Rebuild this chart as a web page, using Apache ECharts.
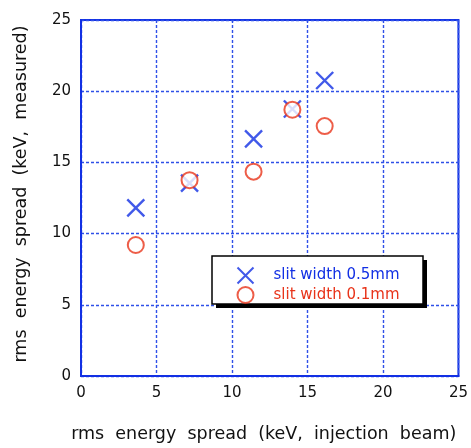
<!DOCTYPE html>
<html>
<head>
<meta charset="utf-8">
<script src="https://cdn.jsdelivr.net/npm/echarts@6/dist/echarts.min.js"></script>
<style>
  html, body { margin: 0; padding: 0; background: #fff; }
  #chart { width: 471px; height: 448px; }
</style>
</head>
<body>
<div id="chart"></div>
<script>
// Injection-beam energy spread (x) vs measured energy spread (y), in keV
const wide = [[3.63, 11.8], [7.19, 13.55], [11.43, 16.65], [14.0, 18.75], [16.14, 20.75]];
const narrow = [[3.63, 9.2], [7.19, 13.75], [11.43, 14.35], [14.0, 18.7], [16.14, 17.55]];
const seriesNames = ['slit width 0.5mm', 'slit width 0.1mm'];
const axisTicks = [0, 5, 10, 15, 20, 25];

const blue = '#1230e4';
const gridBlue = '#2f50e8';
const red = '#e8341a';
const font = '"DejaVu Sans", sans-serif';
const cross = 'path://M0,0L10,10M10,0L0,10';

const chart = echarts.init(document.getElementById('chart'), null, { renderer: 'canvas' });

function axis(name, gap, pad) {
  return {
    type: 'value',
    min: axisTicks[0],
    max: axisTicks[axisTicks.length - 1],
    interval: axisTicks[1] - axisTicks[0],
    name: name,
    nameLocation: 'middle',
    nameGap: gap,
    nameTextStyle: { fontFamily: font, fontSize: 17.5, color: '#111', padding: pad },
    axisLine: { show: true, onZero: false, lineStyle: { color: blue, width: 2 } },
    axisTick: { show: false },
    axisLabel: { fontFamily: font, fontSize: 15, color: '#111', margin: 10 },
    splitLine: { show: true, lineStyle: { color: gridBlue, width: 1.4, type: [3, 2] } }
  };
}

chart.setOption({
  animation: false,
  backgroundColor: '#fff',
  grid: { left: 81, top: 20, width: 379, height: 364, show: true, borderColor: blue, borderWidth: 2 },
  xAxis: axis('rms  energy  spread  (keV,  injection  beam)', 49, [0, 12, 0, 0]),
  yAxis: axis('rms  energy  spread  (keV,  measured)', 51, [0, 0, 0, 8]),
  // legend frame with its solid drop shadow
  graphic: [
    {
      type: 'rect', z: 10, silent: true,
      shape: { x: 216, y: 260, width: 211, height: 48 },
      style: { fill: '#000' }
    },
    {
      type: 'rect', z: 11, silent: true,
      shape: { x: 212, y: 256, width: 211, height: 48 },
      style: { fill: '#fff', stroke: '#000', lineWidth: 1.5 }
    }
  ],
  legend: {
    z: 20,
    orient: 'vertical',
    left: 235,
    top: 265,
    padding: 0,
    itemGap: 0,
    itemWidth: 20,
    itemHeight: 16,
    textStyle: { fontFamily: font, fontSize: 15, lineHeight: 16, padding: [0, 0, 0, 13] },
    data: [
      { name: seriesNames[0], textStyle: { color: blue } },
      { name: seriesNames[1], textStyle: { color: red } }
    ]
  },
  series: [
    {
      name: seriesNames[0],
      type: 'scatter',
      data: wide,
      symbol: cross,
      symbolSize: 17,
      itemStyle: { color: 'none', borderColor: blue, borderWidth: 2.4 },
      z: 3
    },
    {
      name: seriesNames[1],
      type: 'scatter',
      data: narrow,
      symbol: 'emptyCircle',
      symbolSize: 16,
      itemStyle: { color: red, borderColor: red, borderWidth: 1.6 },
      z: 4
    }
  ]
});
</script>
</body>
</html>
